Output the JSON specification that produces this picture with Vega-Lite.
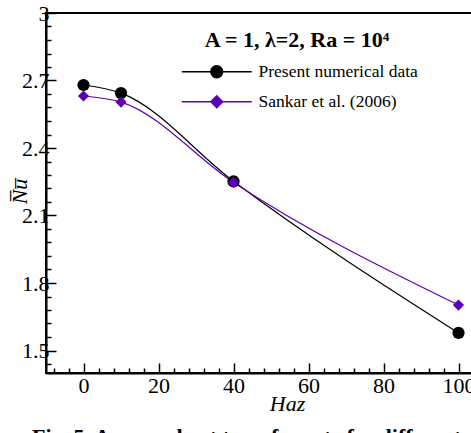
{
  "$schema": "https://vega.github.io/schema/vega-lite/v6.json",
  "width": 427.5,
  "height": 360,
  "autosize": "none",
  "padding": {"left": 46, "top": 13, "right": 0, "bottom": 60},
  "config": {"font": "Liberation Serif", "view": {"stroke": "black", "strokeWidth": 2}},
  "data": {"values": [
    {"series": "Present numerical data", "Ha": 0, "Nu": 2.68},
    {"series": "Present numerical data", "Ha": 10, "Nu": 2.644},
    {"series": "Present numerical data", "Ha": 40, "Nu": 2.252},
    {"series": "Present numerical data", "Ha": 100, "Nu": 1.578},
    {"series": "Sankar et al. (2006)", "Ha": 0, "Nu": 2.631},
    {"series": "Sankar et al. (2006)", "Ha": 10, "Nu": 2.604},
    {"series": "Sankar et al. (2006)", "Ha": 40, "Nu": 2.247},
    {"series": "Sankar et al. (2006)", "Ha": 100, "Nu": 1.702}
  ]},
  "title": {"text": "Fig. 5. Average heat transfer rate for different", "orient": "bottom", "anchor": "start", "frame": "group", "dx": -14, "fontSize": 22, "fontWeight": "bold", "font": "Liberation Serif", "offset": 13, "color": "black"},
  "encoding": {
    "x": {"field": "Ha", "type": "quantitative",
      "scale": {"domain": [-10, 104], "nice": false, "zero": false},
      "axis": {
        "values": [-8,-4,0,4,8,12,16,20,24,28,32,36,40,44,48,52,56,60,64,68,72,76,80,84,88,92,96,100],
        "tickSize": {"condition": {"test": "datum.value % 20 == 0", "value": -10}, "value": -5},
        "labelExpr": "datum.value % 20 == 0 ? datum.label : ''",
        "labelFontSize": 22, "labelPadding": 12, "labelColor": "black", "labelFlush": false, "labelOverlap": false,
        "domainWidth": 2, "domainColor": "black", "tickColor": "black", "tickWidth": 1.5, "grid": false,
        "title": "Haz", "titleFontSize": 22, "titleFontStyle": "italic", "titleFontWeight": "normal", "titleColor": "black",
        "titleX": 241, "titleY": 37, "titleBaseline": "alphabetic"
      }},
    "y": {"field": "Nu", "type": "quantitative",
      "scale": {"domain": [1.4, 3], "nice": false, "zero": false},
      "axis": {
        "values": [1.44,1.5,1.56,1.62,1.68,1.74,1.8,1.86,1.92,1.98,2.04,2.1,2.16,2.22,2.28,2.34,2.4,2.46,2.52,2.58,2.64,2.7,2.76,2.82,2.88,2.94,3],
        "tickSize": {"condition": {"test": "abs(round(datum.value*100) % 30) == 0", "value": -10}, "value": -5},
        "labelExpr": "abs(round(datum.value*100) % 30) == 0 ? format(datum.value, '~g') : ''",
        "labelFontSize": 22, "labelPadding": 7, "labelColor": "black", "labelFlush": false, "labelOverlap": false,
        "domainWidth": 2, "domainColor": "black", "tickColor": "black", "tickWidth": 1.5, "grid": false,
        "title": "N̅u̅", "titleFontSize": 22, "titleFontStyle": "italic", "titleFontWeight": "normal", "titleColor": "black",
        "titleX": -27, "titleY": 178, "titleAngle": -90, "titleAlign": "center", "titleBaseline": "middle"
      }},
    "color": {"field": "series", "type": "nominal",
      "scale": {"domain": ["Present numerical data", "Sankar et al. (2006)"], "range": ["black", "#5c00b8"]},
      "legend": {
        "orient": "none", "legendX": 158, "legendY": 17, "padding": 0,
        "title": "A = 1, λ=2, Ra = 10⁴", "titleFontSize": 22, "titleFontWeight": "bold", "titleFont": "Liberation Serif", "titleColor": "black", "titleAnchor": "middle", "titlePadding": 11, "titleLimit": 400,
        "labelFontSize": 17.5, "labelFont": "Liberation Serif", "labelColor": "black", "labelOffset": 33, "labelLimit": 400, "rowPadding": 11, "symbolSize": 144,
        "encode": {
          "title": {"update": {"dx": {"value": -16}}},
          "symbols": {"update": {
            "shape": {"signal": "datum.value == 'Present numerical data' ? 'M-5.83,0L5.83,0M1,0A1,1,0,1,1,-1,0A1,1,0,1,1,1,0Z' : 'M-5.83,0L5.83,0M0,-1L1,0L0,1L-1,0Z'"},
            "fill": {"signal": "datum.value == 'Present numerical data' ? 'black' : '#5c00b8'"},
            "stroke": {"signal": "datum.value == 'Present numerical data' ? '#555555' : '#6a1fc0'"},
            "strokeWidth": {"value": 1.3},
            "size": {"value": 144},
            "opacity": {"value": 1}
          }}
        }
      }}
  },
  "layer": [
    {"mark": {"type": "line", "interpolate": "monotone", "strokeWidth": 1.2}},
    {"transform": [{"filter": "datum.series == 'Present numerical data'"}],
     "mark": {"type": "point", "shape": "circle", "filled": true, "opacity": 1, "size": 150}},
    {"transform": [{"filter": "datum.series == 'Sankar et al. (2006)'"}],
     "mark": {"type": "point", "shape": "diamond", "filled": true, "opacity": 1, "size": 125}}
  ]
}
